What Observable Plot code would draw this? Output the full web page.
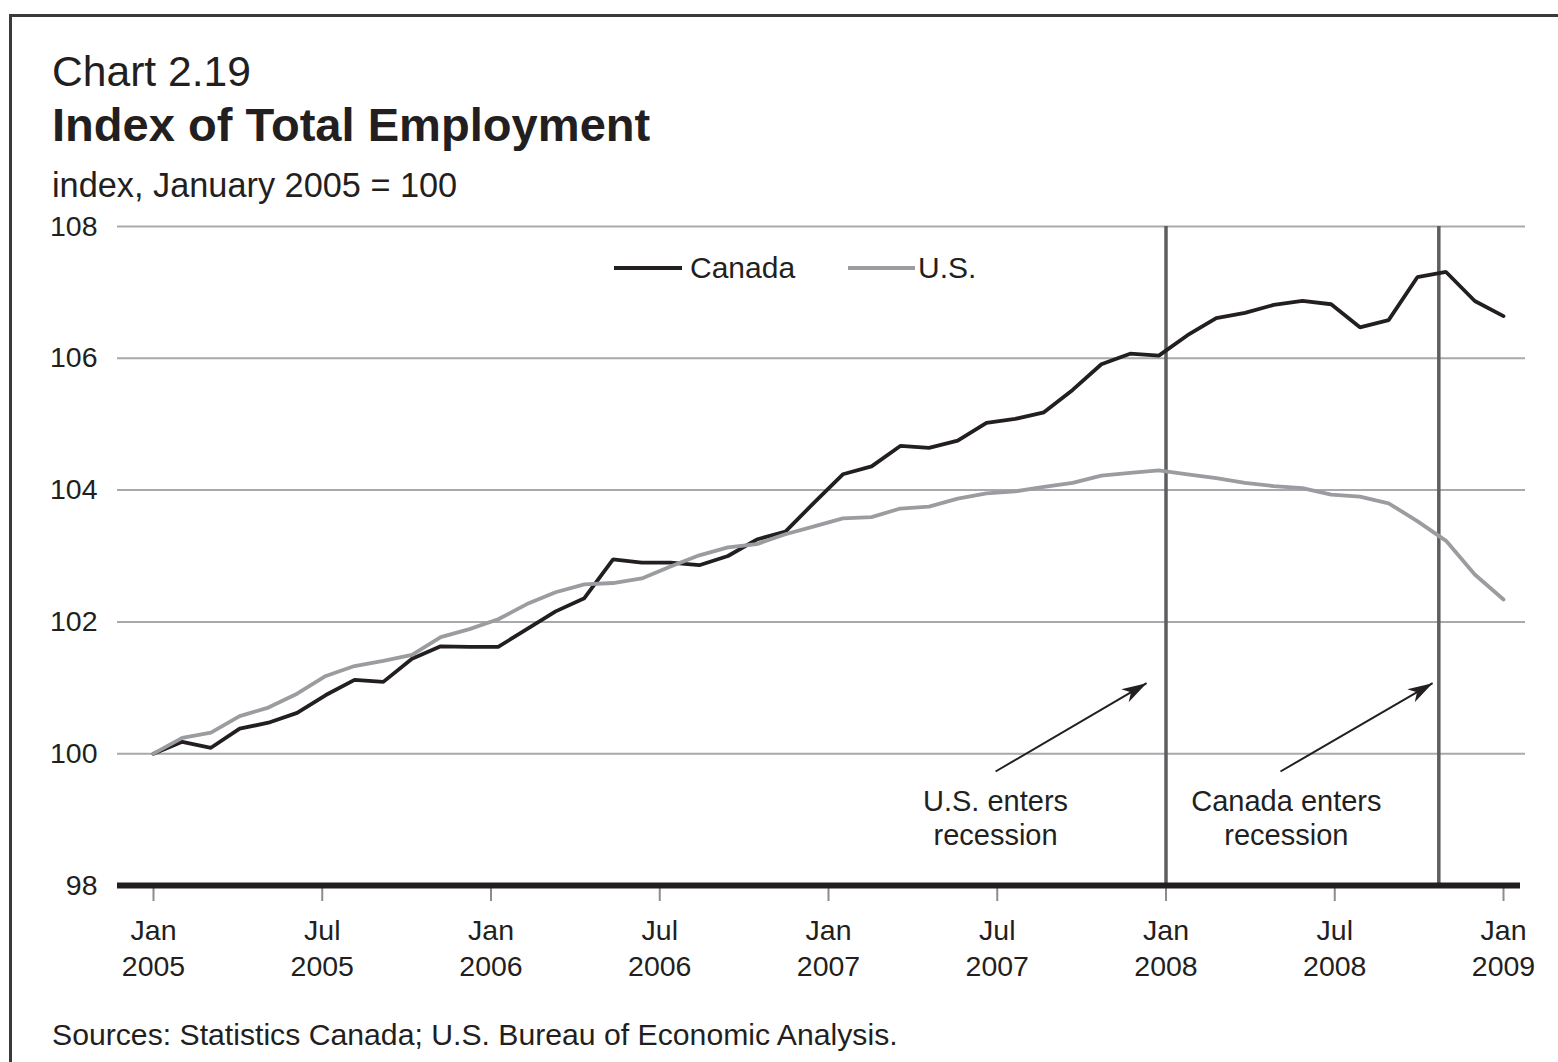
<!DOCTYPE html>
<html>
<head>
<meta charset="utf-8">
<script src="https://cdn.jsdelivr.net/npm/d3@7"></script>
<script src="https://cdn.jsdelivr.net/npm/@observablehq/plot@0.6"></script>
<style>
  html, body { margin: 0; padding: 0; background: #fff; }
  body { width: 1558px; height: 1062px; overflow: hidden; position: relative;
         font-family: "Liberation Sans", Arial, sans-serif; color: #231f20; }
  .frame { position: absolute; left: 9px; top: 14px; width: 1700px; height: 1200px;
           border-left: 3px solid #3a3a3a; border-top: 3px solid #3a3a3a; }
  .t { position: absolute; left: 52px; line-height: 1; white-space: nowrap; }
  #kicker { top: 50px; font-size: 42.6px; }
  #title { top: 101px; font-size: 47.1px; font-weight: bold; }
  #subtitle { top: 168px; font-size: 34.3px; }
  #caption { top: 1020px; font-size: 30.2px; }
  #chart { position: absolute; left: 0; top: 200px; }
  .sw { position: absolute; height: 3.6px; top: 266px; }
  .lt { position: absolute; font-size: 30px; line-height: 1; top: 253px; white-space: nowrap; }
</style>
</head>
<body>
<div class="frame"></div>
<div class="t" id="kicker">Chart 2.19</div>
<div class="t" id="title">Index of Total Employment</div>
<div class="t" id="subtitle">index, January 2005 = 100</div>
<div id="chart"></div>
<div id="legend"></div>
<div class="t" id="caption">Sources: Statistics Canada; U.S. Bureau of Economic Analysis.</div>
<script>
// ---- data (monthly, Jan 2005 – Dec 2008) ----
const series = ["Canada", "U.S."];
const seriesColors = ["#231f20", "#9a9c9f"];
const canada = [100.0, 100.18, 100.09, 100.38, 100.47, 100.62, 100.89, 101.12, 101.09, 101.44, 101.63, 101.62,
  101.62, 101.89, 102.16, 102.36, 102.95, 102.90, 102.90, 102.86, 103.00, 103.25, 103.37, 103.81,
  104.24, 104.36, 104.67, 104.64, 104.75, 105.02, 105.08, 105.18, 105.52, 105.91, 106.07, 106.04,
  106.35, 106.61, 106.69, 106.81, 106.87, 106.82, 106.47, 106.58, 107.23, 107.31, 106.87, 106.64];
const us = [100.0, 100.24, 100.32, 100.57, 100.70, 100.91, 101.18, 101.33, 101.41, 101.50, 101.77, 101.89,
  102.04, 102.27, 102.45, 102.57, 102.59, 102.66, 102.84, 103.01, 103.13, 103.18, 103.33, 103.45,
  103.57, 103.59, 103.72, 103.75, 103.87, 103.95, 103.98, 104.05, 104.11, 104.22, 104.26, 104.30,
  104.24, 104.18, 104.11, 104.06, 104.03, 103.93, 103.90, 103.80, 103.53, 103.23, 102.72, 102.34];
const tickLabels = ["Jan\n2005", "Jul\n2005", "Jan\n2006", "Jul\n2006", "Jan\n2007",
  "Jul\n2007", "Jan\n2008", "Jul\n2008", "Jan\n2009"];
const yTicks = [98, 100, 102, 104, 106, 108];
const gridValues = [100, 102, 104, 106, 108];
// recession markers, in months after January 2005
const recessionLabels = ["U.S. enters\nrecession", "Canada enters\nrecession"];
const recessionMonths = [36, 45.7];
const arrowFrom = [[29.94, 99.73], [40.07, 99.73]];
const arrowTo = [[35.31, 101.07], [45.48, 101.07]];
const labelAt = [[29.94, 99.49], [40.28, 99.49]];

// ---- build tables ----
const axisSpan = 48; // months from Jan 2005 to Jan 2009 on the axis
const rows = [];
[canada, us].forEach((vals, s) => vals.forEach((v, i) => rows.push({
  country: series[s], month: i * axisSpan / (vals.length - 1), value: v
})));
const tickMonths = tickLabels.map((_, i) => i * axisSpan / (tickLabels.length - 1));
const tickMap = new Map(tickMonths.map((m, i) => [m, tickLabels[i]]));
const arrows = arrowFrom.map((f, i) => ({x1: f[0], y1: f[1], x2: arrowTo[i][0], y2: arrowTo[i][1]}));
const labels = labelAt.map((p, i) => ({x: p[0], y: p[1], text: recessionLabels[i]}));

const arrowHead = {
  draw(ctx) {
    ctx.moveTo(0, 0);
    ctx.lineTo(-7.5, 25);
    ctx.lineTo(0, 18);
    ctx.lineTo(7.5, 25);
    ctx.closePath();
  }
};

const ink = "#231f20";
const chart = Plot.plot({
  width: 1558, height: 800,
  marginLeft: 153, marginRight: 55, marginTop: 26, marginBottom: 115,
  style: { fontFamily: "'Liberation Sans', Arial, sans-serif", fontSize: "28.5px", color: ink, background: "transparent", overflow: "visible" },
  x: { domain: [0, axisSpan], label: null },
  y: { domain: [98, 108], label: null },
  color: { domain: series, range: seriesColors },
  marks: [
    Plot.ruleY(gridValues, { stroke: "#a7a9ac", strokeWidth: 2, insetLeft: -36, insetRight: -22 }),
    Plot.ruleX(recessionMonths, { y1: 98, y2: 108, stroke: "#5d5e60", strokeWidth: 3.5 }),
    Plot.line(rows, { x: "month", y: "value", z: "country", stroke: "country", strokeWidth: 3.8, strokeLinejoin: "miter" }),
    Plot.axisX({ ticks: tickMonths, tickFormat: d => tickMap.get(d), tickSize: 16, tickPadding: 12,
      stroke: "#8a8c8e", strokeWidth: 2, lineHeight: 1.29, fontSize: 28.5, fill: ink, label: null }),
    Plot.axisY({ ticks: yTicks, tickSize: 0, tickPadding: 56, fontSize: 28.5, fill: ink, label: null }),
    Plot.ruleY([98], { stroke: ink, strokeWidth: 6, insetLeft: -36, insetRight: -17 }),
    Plot.link(arrows, { x1: "x1", y1: "y1", x2: "x2", y2: "y2", stroke: ink, strokeWidth: 2 }),
    Plot.dot(arrows, { x: "x2", y: "y2", symbol: arrowHead, rotate: 60, r: 5, fill: ink, stroke: "none" }),
    Plot.text(labels, { x: "x", y: "y", text: "text", lineAnchor: "top", lineHeight: 1.17, fontSize: 29, fill: ink })
  ]
});
document.getElementById("chart").appendChild(chart);

// legend (inside plot area, as in the original)
const legend = document.getElementById("legend");
const legendPos = [{sw: 614, w: 68, tx: 690}, {sw: 848, w: 67, tx: 918}];
series.forEach((name, i) => {
  const s = document.createElement("div");
  s.className = "sw";
  s.style.left = legendPos[i].sw + "px";
  s.style.width = legendPos[i].w + "px";
  s.style.background = seriesColors[i];
  legend.appendChild(s);
  const t = document.createElement("div");
  t.className = "lt";
  t.style.left = legendPos[i].tx + "px";
  t.textContent = name;
  legend.appendChild(t);
});
</script>
</body>
</html>
